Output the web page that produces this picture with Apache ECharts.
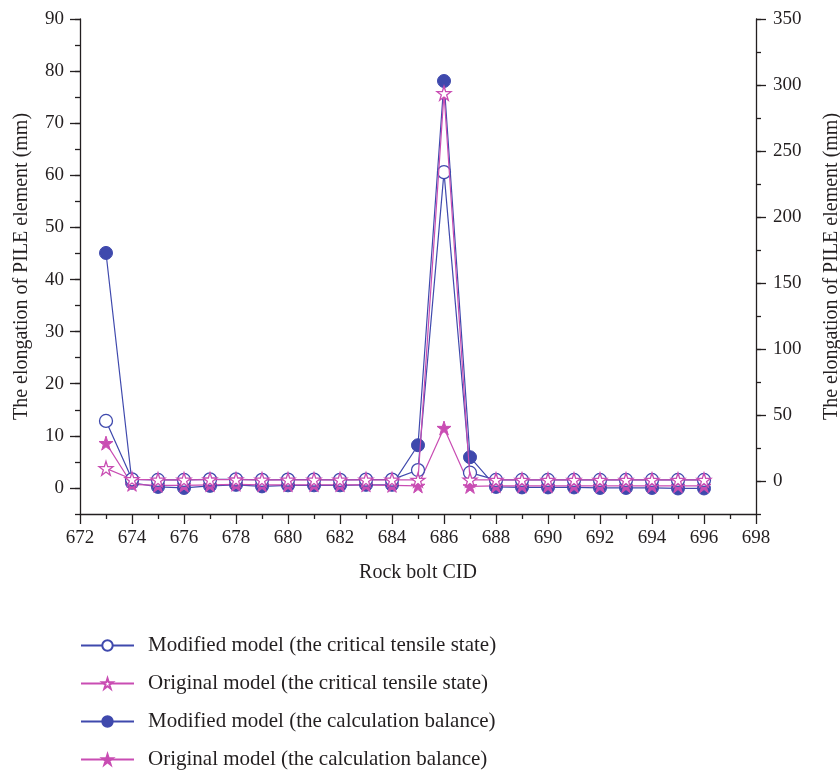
<!DOCTYPE html>
<html>
<head>
<meta charset="utf-8">
<script src="https://cdn.jsdelivr.net/npm/echarts@6/dist/echarts.min.js"></script>
<style>
  html, body { margin: 0; padding: 0; background: #fff; }
  #chart { width: 840px; height: 773px; }
</style>
</head>
<body>
<div id="chart"></div>
<script>
// rock bolt ids on the x axis
const cid = [673, 674, 675, 676, 677, 678, 679, 680, 681, 682, 683, 684,
             685, 686, 687, 688, 689, 690, 691, 692, 693, 694, 695, 696];

// critical tensile state (right axis)
const modCritical = [45.5, 1.3, 0.8, 0.8, 1.2, 1.2, 0.9, 1.0, 1.0, 0.9, 1.0, 1.0,
                     8.3, 234, 6.3, 0.8, 0.8, 0.8, 0.8, 0.8, 0.8, 0.8, 0.8, 0.8];
const origCritical = [9.6, 1.3, 0.9, 0.9, 1.0, 1.0, 0.9, 0.9, 0.9, 0.9, 0.9, 0.9,
                      0.8, 293.7, 0.9, 0.8, 0.8, 0.8, 0.8, 0.8, 0.8, 0.8, 0.8, 0.8];

// calculation balance (left axis)
const modBalance = [45.1, 1.0, 0.2, 0.0, 0.4, 0.6, 0.3, 0.5, 0.5, 0.5, 0.6, 0.6,
                    8.2, 78.1, 5.9, 0.2, 0.1, 0.1, 0.1, 0.0, 0.0, 0.0, -0.1, -0.1];
const origBalance = [8.6, 0.7, 0.5, 0.5, 0.6, 0.7, 0.6, 0.6, 0.6, 0.6, 0.6, 0.5,
                     0.4, 11.5, 0.3, 0.4, 0.4, 0.4, 0.4, 0.4, 0.4, 0.4, 0.4, 0.4];

// tick labels
const leftTicks = [0, 10, 20, 30, 40, 50, 60, 70, 80, 90];
const rightTicks = [0, 50, 100, 150, 200, 250, 300, 350];

const names = [
  'Modified model (the critical tensile state)',
  'Original model (the critical tensile state)',
  'Modified model (the calculation balance)',
  'Original model (the calculation balance)'
];

const BLUE = '#3f49ad';
const PINK = '#c94db3';
const INK = '#231f20';
const FONT = '"Liberation Serif", "DejaVu Serif", serif';
const STAR = 'path://M50,0 L61.2,34.5 L97.6,34.5 L68.2,55.9 L79.4,90.5 L50,69.1 L20.6,90.5 L31.8,55.9 L2.4,34.5 L38.8,34.5 Z';

const pairs = (vals) => cid.map((c, i) => [c, vals[i]]);

const chart = echarts.init(document.getElementById('chart'), null, {renderer: 'canvas'});

const axisLine = {show: true, onZero: false, lineStyle: {color: INK, width: 1.3}};
const tickFont = {color: INK, fontFamily: FONT, fontSize: 19};
const nameFont = {color: INK, fontFamily: FONT, fontSize: 20};

function lineSeries(name, data, axis, color, symbol, size, hollow, z) {
  return {
    name: name,
    type: 'line',
    yAxisIndex: axis,
    data: pairs(data),
    symbol: symbol,
    symbolSize: size,
    showAllSymbol: true,
    z: z,
    lineStyle: {color: color, width: 1.2},
    itemStyle: hollow
      ? {color: '#fff', borderColor: color, borderWidth: 1.3}
      : {color: color, borderColor: color, borderWidth: 1},
    emphasis: {disabled: true},
    animation: false
  };
}

chart.setOption({
  animation: false,
  grid: {left: 80, right: 84, top: 19, bottom: 259, containLabel: false, outerBoundsMode: 'none'},
  legend: {
    orient: 'vertical',
    left: 80,
    top: 635,
    height: 160,
    padding: 0,
    itemWidth: 53,
    itemHeight: 13,
    itemGap: 17,
    data: names,
    textStyle: {color: INK, fontFamily: FONT, fontSize: 21, padding: [0, 0, 0, 9]},
    selectedMode: false
  },
  xAxis: {
    type: 'value',
    min: 672,
    max: 698,
    interval: 2,
    name: 'Rock bolt CID',
    nameLocation: 'middle',
    nameGap: 49,
    nameTextStyle: nameFont,
    axisLine: axisLine,
    axisTick: {show: true, length: 10, lineStyle: {color: INK, width: 1.3}},
    minorTick: {show: true, splitNumber: 2, length: 5, lineStyle: {color: INK, width: 1.3}},
    axisLabel: Object.assign({margin: 15}, tickFont),
    splitLine: {show: false}
  },
  yAxis: [
    {
      type: 'value',
      position: 'left',
      min: -5,
      max: 90,
      interval: 5,
      name: 'The elongation of PILE element (mm)',
      nameLocation: 'middle',
      nameRotate: 90,
      nameGap: 48,
      nameTextStyle: nameFont,
      axisLine: axisLine,
      axisTick: {show: true, length: 5, lineStyle: {color: INK, width: 1.3}},
      axisLabel: Object.assign({margin: 16, customValues: leftTicks}, tickFont),
      splitLine: {show: false}
    },
    {
      type: 'value',
      position: 'right',
      min: -25,
      max: 350,
      interval: 25,
      name: 'The elongation of PILE element (mm)',
      nameLocation: 'middle',
      nameRotate: 90,
      nameGap: 66,
      nameTextStyle: nameFont,
      axisLine: axisLine,
      axisTick: {show: true, length: 5, lineStyle: {color: INK, width: 1.3}},
      axisLabel: Object.assign({margin: 17, customValues: rightTicks}, tickFont),
      splitLine: {show: false}
    },
    {
      type: 'value',
      position: 'left',
      min: -5,
      max: 90,
      axisLine: {show: false, onZero: false},
      axisTick: {show: true, length: 10, customValues: leftTicks, lineStyle: {color: INK, width: 1.3}},
      axisLabel: {show: false},
      splitLine: {show: false}
    },
    {
      type: 'value',
      position: 'right',
      min: -25,
      max: 350,
      axisLine: {show: false, onZero: false},
      axisTick: {show: true, length: 10, customValues: rightTicks, lineStyle: {color: INK, width: 1.3}},
      axisLabel: {show: false},
      splitLine: {show: false}
    }
  ],
  series: [
    lineSeries(names[0], modCritical, 1, BLUE, 'circle', 13, true, 3),
    lineSeries(names[1], origCritical, 1, PINK, STAR, 14, true, 4),
    lineSeries(names[2], modBalance, 0, BLUE, 'circle', 13, false, 2),
    lineSeries(names[3], origBalance, 0, PINK, STAR, 14, false, 2)
  ]
});
</script>
</body>
</html>
